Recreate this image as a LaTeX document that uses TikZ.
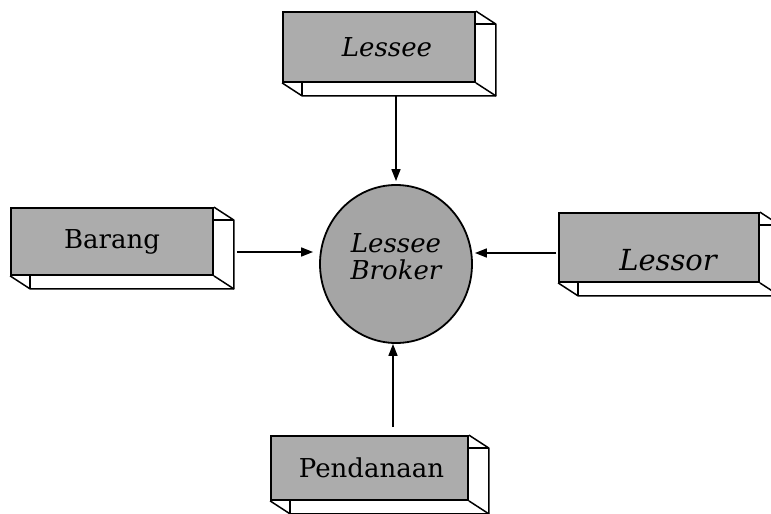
\documentclass[tikz,border=0pt]{standalone}
\usepackage{fontspec}
\setmainfont{DejaVu Serif}
\usetikzlibrary{shapes.geometric,arrows.meta}

\definecolor{facegray}{RGB}{172,172,172}
\definecolor{balgray}{RGB}{165,165,165}

\tikzset{
  face/.style={draw, line width=1.8pt, fill=facegray, inner sep=0pt},
  edgeline/.style={line width=1.5pt, line join=round},
  label25/.style={font=\fontsize{26}{27}\selectfont\itshape},
  label25up/.style={font=\fontsize{26}{27}\selectfont},
  arr/.style={line width=1.5pt, -{Triangle[length=12pt,width=9pt]}},
}

% visible back edges of an extruded box (depth 20 right, 13 down)
\newcommand\dfdepth[1]{%
  \draw[edgeline] (#1.north east) -- ++(20,13)
        -- ([shift={(20,13)}]#1.south east)
        -- ([shift={(20,13)}]#1.south west) -- (#1.south west);
  \draw[edgeline] (#1.south east) -- ++(20,13);
  \draw[edgeline] ([xshift=20pt]#1.south west) -- ++(0,13);
  \draw[edgeline] ([yshift=-13pt]#1.north east) -- ++(20,0);
}

\begin{document}
\begin{tikzpicture}[x=1pt,y=-1pt]
\useasboundingbox (0,0) rectangle (771,514);
\clip (0,0) rectangle (771,514);

% external entities
\node[face, minimum width=192, minimum height=70] (lessee) at (379,47) {};
\dfdepth{lessee}
\node[label25] (lessee-t) at ([xshift=8pt]lessee.center) {Lessee};

\node[face, minimum width=202, minimum height=67] (barang) at (112,241.5) {};
\dfdepth{barang}
\node[label25up] (barang-t) at (barang.center) {Barang};

\node[face, minimum width=200, minimum height=69] (lessor) at (659,247.5) {};
\dfdepth{lessor}
\node[label25, font=\fontsize{29}{30}\selectfont\itshape] (lessor-t) at ([xshift=9pt,yshift=-13pt]lessor.center) {Lessor};

\node[face, minimum width=197, minimum height=64] (pendanaan) at (369.5,468) {};
\dfdepth{pendanaan}
\node[label25up] (pendanaan-t) at ([xshift=2pt]pendanaan.center) {Pendanaan};

% process
\node[ellipse, draw, line width=1.8pt, fill=balgray, minimum width=152, minimum height=158, inner sep=0pt] (broker) at (396,264) {};
\node[label25, align=center] (broker-t) at ([yshift=7pt]broker.center) {Lessee\\Broker};

% data flows
\coordinate (lessee-out) at (lessee.south -| broker.north);
\coordinate (pend-out) at (pendanaan.north -| broker.south);
\draw[arr, shorten >=3pt] ([yshift=-13pt]lessee-out) -- (broker.north);
\draw[arr, shorten >=6pt, shorten <=3pt] ([xshift=20pt,yshift=-10.5pt]barang.east) -- ([yshift=12pt]broker.west);
\draw[arr, shorten >=2pt, shorten <=2pt] ([yshift=-5.5pt]lessor.west) -- ([yshift=11pt]broker.east);
\draw[arr, shorten <=8pt] ([xshift=-3pt]pend-out) -- ([xshift=-3pt]broker.south);
\end{tikzpicture}
\end{document}
